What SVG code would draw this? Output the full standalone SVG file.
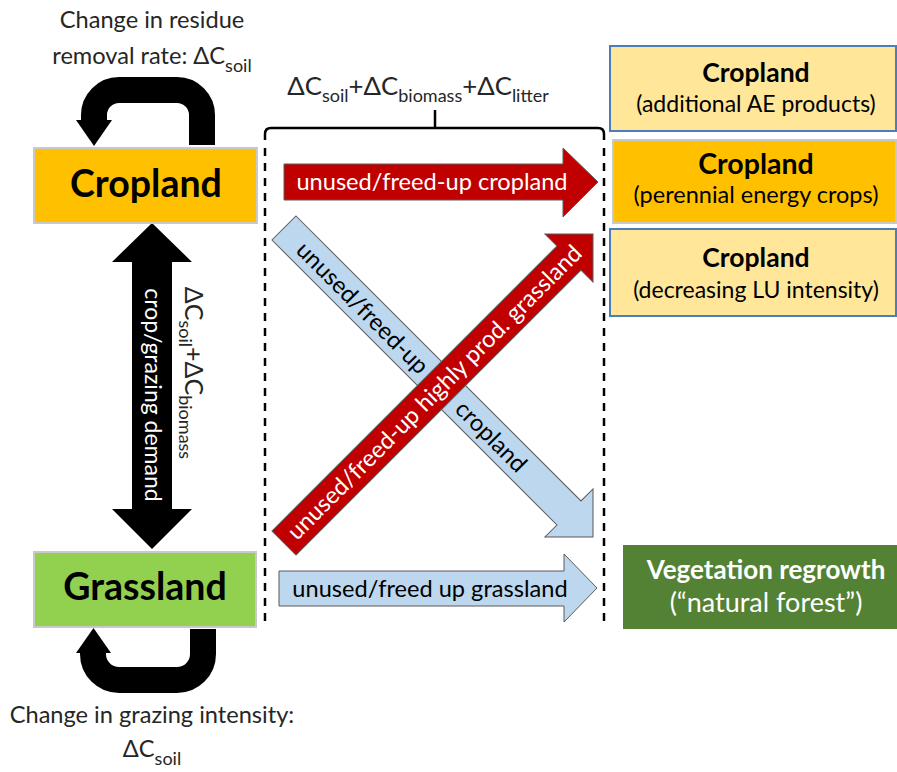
<svg xmlns="http://www.w3.org/2000/svg" width="897" height="772" viewBox="0 0 897 772">
<style>
text{font-family:Lato,"Liberation Sans",sans-serif;text-anchor:middle;}
.cap{font-size:23.6px;fill:#262626;}
.sub{font-size:18px;}
.big{font-size:37.5px;font-weight:bold;fill:#000;}
.hd{font-size:26.5px;font-weight:bold;fill:#000;}
.sm{font-size:23px;fill:#000;}
.lbw{font-size:23.6px;fill:#fff;}
.lbd{font-size:23.6px;fill:#000;}
.loop{fill:none;stroke:#000;stroke-width:26;}
.dash{fill:none;stroke:#000;stroke-width:2.5;stroke-dasharray:8 7;}
.red{fill:#C00000;stroke:#5a5a5a;stroke-width:1;}
.blue{fill:#BDD7EE;stroke:#5a5a5a;stroke-width:1;}
.lt{fill:#FFE699;stroke:#4A7EBB;stroke-width:2;}
</style>
<rect width="897" height="772" fill="#fff"/>
<g id="connectors">
  <!-- top loop -->
  <path class="loop" d="M202,145 V115 A25,25 0 0 0 177,90 H119 A25,25 0 0 0 94,115 V121"/>
  <polygon points="76,120 112,120 94,146" fill="#000"/>
  <text class="cap" x="152" y="28">Change in residue</text>
  <text class="cap" x="152" y="64">removal rate: ΔC<tspan class="sub" dy="8">soil</tspan></text>
  <!-- bottom loop -->
  <path class="loop" d="M203,629 V654 A26,26 0 0 1 177,680 H119 A26,26 0 0 1 93,654 V652"/>
  <polygon points="76,653 111,653 93.5,628" fill="#000"/>
  <text class="cap" x="152" y="723">Change in grazing intensity:</text>
  <text class="cap" x="152" y="757">ΔC<tspan class="sub" dy="8">soil</tspan></text>
  <!-- vertical double arrow -->
  <polygon points="152,223 192,262 172,262 172,509 192,509 152,549 112,509 132,509 132,262 112,262" fill="#000"/>
  <text class="lbw" transform="translate(152,395) rotate(90)" x="0" y="7" style="font-size:23px">crop/grazing demand</text>
  <text class="cap" transform="translate(185,373) rotate(90)" x="0" y="0" style="font-size:25px">ΔC<tspan class="sub" dy="6">soil</tspan><tspan dy="-6">+ΔC</tspan><tspan class="sub" dy="6">biomass</tspan></text>
  <!-- bracket -->
  <path d="M265,140 V134 Q265,128 271,128 H598 Q604,128 604,134 V140 M435,128 V110" fill="none" stroke="#000" stroke-width="2.5"/>
  <line class="dash" x1="265" y1="148" x2="265" y2="628"/>
  <line class="dash" x1="604" y1="148" x2="604" y2="628"/>
  <text class="cap" x="418" y="95" style="font-size:25.8px">ΔC<tspan class="sub" dy="7">soil</tspan><tspan dy="-7">+ΔC</tspan><tspan class="sub" dy="7">biomass</tspan><tspan dy="-7">+ΔC</tspan><tspan class="sub" dy="7">litter</tspan></text>
  <!-- top red arrow -->
  <polygon class="red" points="284,164 563,164 563,148 598,182 563,217 563,200 284,200"/>
  <text class="lbw" x="432" y="190">unused/freed-up cropland</text>
  <!-- blue diagonal -->
  <g transform="translate(284,228) rotate(45)">
    <polygon class="blue" points="0,-17 403,-17 403,-34 437,0 403,34 403,17 0,17"/>
    <text class="lbd" x="112" y="9">unused/freed-up</text>
    <text class="lbd" x="294" y="9">cropland</text>
  </g>
  <!-- red diagonal -->
  <g transform="translate(284,543) rotate(-45)">
    <polygon class="red" points="0,-17 403,-17 403,-34 437,0 403,34 403,17 0,17"/>
    <text class="lbw" x="213" y="8">unused/freed-up highly prod. grassland</text>
  </g>
  <!-- bottom blue arrow -->
  <polygon class="blue" points="279,571 564,571 564,554 597,588 564,622 564,606 279,606"/>
  <text class="lbd" x="430" y="597">unused/freed up grassland</text>
</g>
<g id="cropland">
  <rect x="34" y="148" width="223" height="75" fill="#FFC000" stroke="#C9C9C9" stroke-width="2"/>
  <text class="big" x="146" y="197">Cropland</text>
</g>
<g id="grassland">
  <rect x="34" y="552" width="222" height="75" fill="#92D050" stroke="#C9C9C9" stroke-width="2"/>
  <text class="big" x="145" y="600">Grassland</text>
</g>
<g id="cropland-ae">
  <rect class="lt" x="610" y="46" width="286" height="85"/>
  <text class="hd" x="756" y="82">Cropland</text>
  <text class="sm" x="756" y="112">(additional AE products)</text>
</g>
<g id="cropland-perennial">
  <rect x="613" y="140" width="283" height="83" fill="#FFC000" stroke="#C9C9C9" stroke-width="2"/>
  <text class="hd" x="756" y="174" style="font-size:28.5px">Cropland</text>
  <text class="sm" x="756" y="203" style="font-size:23.5px">(perennial energy crops)</text>
</g>
<g id="cropland-lu">
  <rect class="lt" x="610" y="229" width="286" height="87"/>
  <text class="hd" x="756" y="267">Cropland</text>
  <text class="sm" x="756" y="298">(decreasing LU intensity)</text>
</g>
<g id="vegetation">
  <rect x="623" y="545" width="274" height="84" fill="#548235"/>
  <text x="766" y="579" style="font-size:26px;font-weight:bold;fill:#fff">Vegetation regrowth</text>
  <text x="766" y="612" style="font-size:27px;fill:#fff">(“natural forest”)</text>
</g>
</svg>
